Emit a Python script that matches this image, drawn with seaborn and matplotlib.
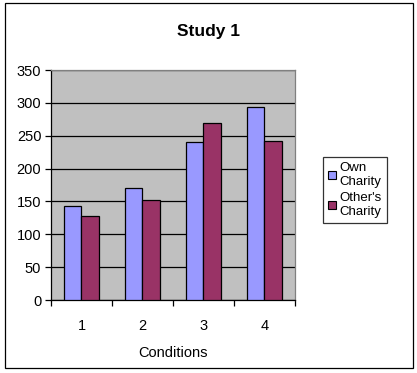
import pandas as pd
import matplotlib.pyplot as plt
import matplotlib.patches as mpatches
import seaborn as sns

# Data
conditions = ["1", "2", "3", "4"]
own_charity = [143, 170, 240, 294]
others_charity = [128, 152, 270, 242]
series_names = ["Own\nCharity", "Other's\nCharity"]
colors = ["#9999FF", "#993366"]

df = pd.DataFrame({
    "Conditions": conditions * 2,
    "Value": own_charity + others_charity,
    "Series": [series_names[0]] * 4 + [series_names[1]] * 4,
})

sns.set_style("white")
plt.rcParams["font.family"] = ["Liberation Sans", "DejaVu Sans"]
plt.rcParams["text.color"] = "black"
plt.rcParams["xtick.color"] = "black"
plt.rcParams["ytick.color"] = "black"
plt.rcParams["axes.labelcolor"] = "black"

fig = plt.figure(figsize=(4.17, 3.73), dpi=100)
ax = fig.add_axes([0.1223, 0.1957, 0.7074 - 0.1223, 0.8123 - 0.1957])
ax.set_facecolor("#C0C0C0")

sns.barplot(data=df, x="Conditions", y="Value", hue="Series", palette=colors,
            saturation=1, width=0.57, edgecolor="black", linewidth=0.9, gap=0,
            ax=ax, zorder=3)

# Axes and grid
ax.set_ylim(0, 350)
ax.set_xlim(-0.5, 3.5)
ax.set_yticks(range(0, 351, 50))
ax.yaxis.grid(True, color="black", linewidth=0.9, zorder=1)
ax.set_axisbelow(True)
ax.tick_params(axis="y", direction="out", length=4, width=0.9, color="black",
               labelsize=10.5, pad=3, left=True)

ax.set_xticks([-0.5, 0.5, 1.5, 2.5, 3.5])
ax.set_xticklabels([])
ax.set_xticks([0, 1, 2, 3], minor=True)
ax.set_xticklabels(conditions, minor=True)
ax.tick_params(axis="x", which="major", direction="out", length=4, width=0.9,
               color="black", bottom=True)
ax.tick_params(axis="x", which="minor", length=0, labelsize=10.5, pad=14)

for side in ["left", "bottom"]:
    ax.spines[side].set_color("black")
    ax.spines[side].set_linewidth(0.9)
for side in ["top", "right"]:
    ax.spines[side].set_visible(True)
    ax.spines[side].set_color("#808080")
    ax.spines[side].set_linewidth(0.9)

ax.set_xlabel("Conditions", fontsize=10.5, labelpad=9)
ax.set_ylabel("")
fig.suptitle("Study 1", fontsize=12.5, fontweight="bold", y=0.935, x=0.5)

# Legend
handles = [mpatches.Patch(facecolor=c, edgecolor="black", linewidth=0.8) for c in colors]
ax.legend(handles, series_names, loc="upper left",
          bbox_to_anchor=(323 / 417, 1 - 157 / 373), bbox_transform=fig.transFigure,
          frameon=True, fancybox=False, edgecolor="black", fontsize=9.5,
          handlelength=0.55, handleheight=0.55, handletextpad=0.3,
          borderpad=0.4, labelspacing=0.3, borderaxespad=0)
ax.get_legend().get_frame().set_linewidth(0.9)

# Outer chart border
fig.patches.append(mpatches.Rectangle((5 / 417, 1 - 368 / 373), 408 / 417, 365 / 373,
                                      transform=fig.transFigure, fill=False,
                                      edgecolor="black", linewidth=0.9))

plt.savefig("out.png", dpi=100)
